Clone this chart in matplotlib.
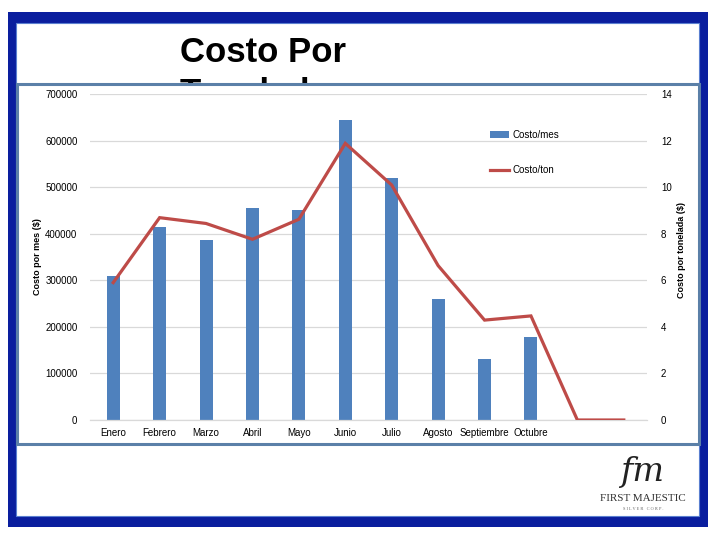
import matplotlib
matplotlib.use("Agg")
import matplotlib.pyplot as plt
from matplotlib.patches import Rectangle
import numpy as np

months = ["Enero", "Febrero", "Marzo", "Abril", "Mayo", "Junio", "Julio",
          "Agosto", "Septiembre", "Octubre", "", ""]
costo_mes = [309000, 414000, 386000, 455000, 451000, 644000, 519000,
             260000, 131000, 178000, 0, 0]
costo_ton = [5.90, 8.69, 8.44, 7.76, 8.62, 11.88, 10.09, 6.63, 4.29, 4.47, 0, 0]
left_ticks = [0, 100000, 200000, 300000, 400000, 500000, 600000, 700000]
right_ticks = [0, 2, 4, 6, 8, 10, 12, 14]

W, H = 720, 540
plt.rcParams['font.family'] = ['Liberation Sans', 'DejaVu Sans']
fig = plt.figure(figsize=(W / 100, H / 100), dpi=100)

def fx(x):
    return x / W

def fy(y):
    return 1 - y / H

# outer dark blue frame
fig.patches.append(Rectangle((fx(8), fy(527)), (708 - 8) / W, (527 - 12) / H,
                             transform=fig.transFigure, facecolor="#0A1E9E",
                             edgecolor="none", zorder=0))
fig.patches.append(Rectangle((fx(16), fy(516)), (699 - 16) / W, (516 - 23) / H,
                             transform=fig.transFigure, facecolor="white",
                             edgecolor="#5A7FD0", linewidth=0.8, zorder=0.5))

# title (partially hidden behind chart box)
fig.text(fx(180), fy(62), "Costo Por", fontsize=25, fontweight="bold",
         color="black", ha="left", va="baseline", zorder=1)
fig.text(fx(180), fy(103), "Tonelada", fontsize=25, fontweight="bold",
         color="black", ha="left", va="baseline", zorder=1)

# chart box
fig.patches.append(Rectangle((fx(17), fy(444)), (699 - 17) / W, (444 - 84) / H,
                             transform=fig.transFigure, facecolor="white",
                             edgecolor="#5B80A8", linewidth=2.2, zorder=2))

# logo
fig.text(fx(642), fy(481), "fm", fontsize=24, family="DejaVu Serif",
         style="italic", color="#222222", ha="center", va="baseline", zorder=1)
fig.text(fx(643), fy(501), "FIRST MAJESTIC", fontsize=8, family="Liberation Serif",
         color="#333333", ha="center", va="baseline", zorder=1)
fig.text(fx(643), fy(510), "S I L V E R   C O R P .", fontsize=3.2, family="Liberation Serif",
         color="#666666", ha="center", va="baseline", zorder=1)

# axes
ax = fig.add_axes([fx(90), fy(420), (647 - 90) / W, (420 - 94) / H])
ax.set_zorder(3)
ax.patch.set_visible(False)
x = np.arange(len(months))
bars = ax.bar(x, costo_mes, width=0.28, color="#4F81BD", label="Costo/mes", zorder=2)
ax.set_xlim(-0.5, len(months) - 0.5)
ax.set_ylim(0, 700000)
ax.set_yticks(left_ticks)
ax.set_yticklabels([str(v) for v in left_ticks])
ax.grid(axis="y", color="#D9D9D9", linewidth=0.9, zorder=0)
ax.set_axisbelow(True)
for s in ["top", "left", "right"]:
    ax.spines[s].set_visible(False)
ax.spines["bottom"].set_color("#D9D9D9")
ax.spines["bottom"].set_linewidth(0.9)
ax.set_xticks(x)
ax.set_xticklabels(months)
ax.tick_params(axis="both", length=0, labelsize=7, colors="black")
ax.tick_params(axis="y", pad=9)
ax.tick_params(axis="x", pad=5.5)
ax.set_ylabel("Costo por mes ($)", fontsize=6.5, fontweight="bold")
ax.yaxis.set_label_coords(-0.086, 0.5)

ax2 = ax.twinx()
ax2.set_zorder(4)
ax2.patch.set_visible(False)
line, = ax2.plot(x, costo_ton, color="#BE4B48", linewidth=2.3, label="Costo/ton",
                 solid_joinstyle="miter")
ax2.set_ylim(0, 14)
ax2.set_yticks(right_ticks)
ax2.set_yticklabels([str(v) for v in right_ticks])
for s in ["top", "left", "right", "bottom"]:
    ax2.spines[s].set_visible(False)
ax2.tick_params(axis="y", length=0, labelsize=7, pad=10, colors="black")
ax2.set_ylabel("Costo por tonelada ($)", fontsize=6.5, fontweight="bold")
ax2.yaxis.set_label_coords(1.054, 0.52)

leg = fig.legend([bars, line], ["Costo/mes", "Costo/ton"], loc="upper left",
                 bbox_to_anchor=(fx(490), fy(130)), frameon=False, fontsize=7,
                 labelspacing=2.6, handlelength=2.0, handletextpad=0.3,
                 borderaxespad=0, borderpad=0)
leg.set_zorder(5)

fig.savefig("out.png", dpi=100)
